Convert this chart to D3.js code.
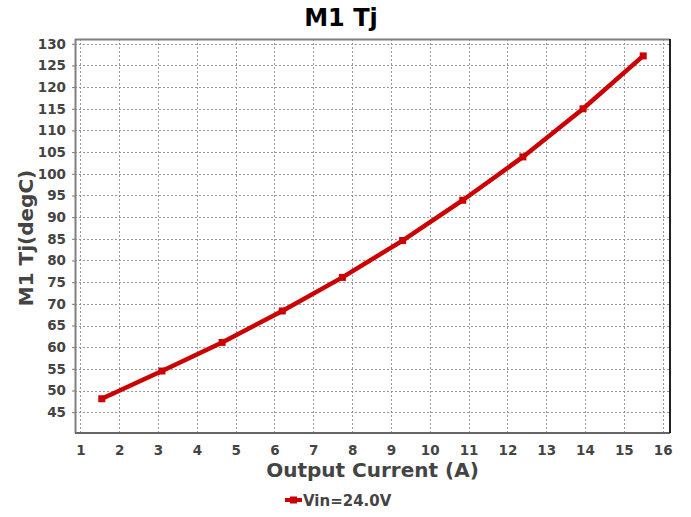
<!DOCTYPE html>
<html>
<head>
<meta charset="utf-8">
<script src="https://cdn.jsdelivr.net/npm/d3@7"></script>
<style>
  body { margin: 0; background: #fff; }
  svg { font-family: "DejaVu Sans", sans-serif; }
</style>
</head>
<body>
<div id="chart"></div>
<script>
// chart data
var current = [1.55, 3.1, 4.65, 6.2, 7.75, 9.3, 10.85, 12.4, 13.95, 15.5];
var tj = [48.1, 54.5, 61.1, 68.35, 76.1, 84.6, 93.9, 103.9, 115.0, 127.2];
var xTicks = d3.range(1, 17);
var yTicks = d3.range(45, 131, 5);
var seriesName = "Vin=24.0V";

var width = 691;
var height = 517;
var margin = {top: 39, right: 21, bottom: 84, left: 75};
var textColor = "#444";
var red = "#cc0000";

var svg = d3.select("#chart").append("svg")
    .attr("width", width)
    .attr("height", height);

var plotW = width - margin.left - margin.right;
var plotH = height - margin.top - margin.bottom;

var x = d3.scaleLinear().domain([0.86, 16.19]).range([0, plotW]);
var y = d3.scaleLinear().domain([40.2, 131.1]).range([plotH, 0]);

var g = svg.append("g")
    .attr("transform", "translate(" + margin.left + "," + margin.top + ")");

// grid
g.append("g").selectAll("line").data(xTicks).enter().append("line")
    .attr("x1", function(d) { return Math.round(x(d)) + 0.5; })
    .attr("x2", function(d) { return Math.round(x(d)) + 0.5; })
    .attr("y1", 0).attr("y2", plotH)
    .attr("stroke", "#999").attr("stroke-dasharray", "2,2");
g.append("g").selectAll("line").data(yTicks).enter().append("line")
    .attr("y1", function(d) { return Math.round(y(d)) + 0.5; })
    .attr("y2", function(d) { return Math.round(y(d)) + 0.5; })
    .attr("x1", 0).attr("x2", plotW)
    .attr("stroke", "#999").attr("stroke-dasharray", "2,2");

// axes
var xAxis = d3.axisBottom(x).tickValues(xTicks).tickSize(0).tickPadding(12);
var yAxis = d3.axisLeft(y).tickValues(yTicks).tickSize(3).tickPadding(6);

var gx = g.append("g").attr("transform", "translate(0," + plotH + ")").call(xAxis);
var gy = g.append("g").call(yAxis);
[gx, gy].forEach(function(a) {
    a.select(".domain").remove();
    a.selectAll("text")
        .attr("fill", textColor)
        .style("font-size", "13.5px")
        .style("font-weight", "bold")
        .style("font-family", "DejaVu Sans");
    a.selectAll("line").attr("stroke", "#777");
});

// frame
g.append("line").attr("x1", 0).attr("x2", plotW).attr("y1", 0.5).attr("y2", 0.5)
    .attr("stroke", "#808080").attr("stroke-width", 2);
g.append("line").attr("x1", 0.5).attr("x2", 0.5).attr("y1", 0).attr("y2", plotH)
    .attr("stroke", "#808080").attr("stroke-width", 2);
g.append("line").attr("x1", 0).attr("x2", plotW).attr("y1", plotH).attr("y2", plotH)
    .attr("stroke", "#666").attr("stroke-width", 2);
g.append("line").attr("x1", plotW).attr("x2", plotW).attr("y1", 0).attr("y2", plotH)
    .attr("stroke", "#222").attr("stroke-width", 2);

// series
var pts = current.map(function(d, i) { return [d, tj[i]]; });
var line = d3.line()
    .x(function(d) { return x(d[0]); })
    .y(function(d) { return y(d[1]); });

g.append("path").datum(pts)
    .attr("d", line)
    .attr("fill", "none")
    .attr("stroke", red)
    .attr("stroke-width", 4.5);

g.append("g").selectAll("rect").data(pts).enter().append("rect")
    .attr("x", function(d) { return x(d[0]) - 3.5; })
    .attr("y", function(d) { return y(d[1]) - 3.5; })
    .attr("width", 7).attr("height", 7)
    .attr("fill", red);

// titles
svg.append("text")
    .attr("x", 341).attr("y", 26)
    .attr("text-anchor", "middle")
    .style("font-size", "24px").style("font-weight", "bold")
    .attr("fill", "#000")
    .text("M1 Tj");

svg.append("text")
    .attr("x", margin.left + plotW / 2).attr("y", 477)
    .attr("text-anchor", "middle")
    .style("font-size", "20px").style("font-weight", "bold")
    .attr("fill", textColor)
    .text("Output Current (A)");

svg.append("text")
    .attr("transform", "translate(33," + (margin.top + plotH / 2 + 2) + ") rotate(-90)")
    .attr("text-anchor", "middle")
    .style("font-size", "20px").style("font-weight", "bold")
    .attr("fill", textColor)
    .text("M1 Tj(degC)");

// legend
var lg = svg.append("g").attr("transform", "translate(285,500)");
lg.append("line").attr("x1", 0).attr("x2", 17).attr("y1", 0).attr("y2", 0)
    .attr("stroke", red).attr("stroke-width", 4);
lg.append("rect").attr("x", 5).attr("y", -3.5).attr("width", 7).attr("height", 7).attr("fill", red);
lg.append("text").attr("x", 18).attr("y", 5.5)
    .style("font-size", "15px").style("font-weight", "bold")
    .attr("fill", textColor)
    .text(seriesName);
</script>
</body>
</html>
